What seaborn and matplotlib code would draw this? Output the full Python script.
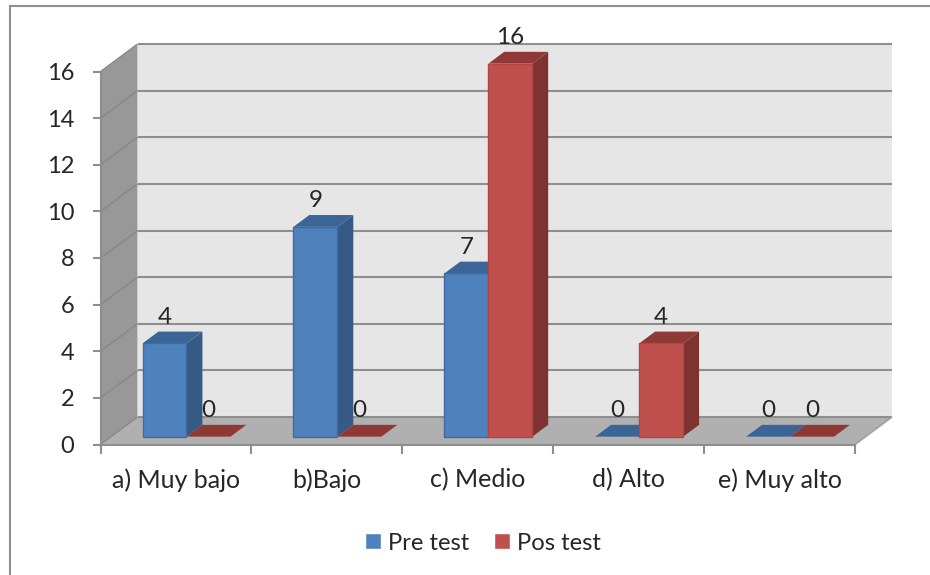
import matplotlib
matplotlib.use("Agg")
import matplotlib.pyplot as plt
from matplotlib.patches import Rectangle
from matplotlib.transforms import Affine2D
import pandas as pd
import seaborn as sns

categories = ["a) Muy bajo", "b)Bajo", "c) Medio", "d) Alto", "e) Muy alto"]
pre_test = [4, 9, 7, 0, 0]
pos_test = [0, 0, 16, 4, 0]
series_names = ["Pre test", "Pos test"]
y_ticks = [0, 2, 4, 6, 8, 10, 12, 14, 16]

FRONT = {"Pre test": "#4F81BD", "Pos test": "#C0504D"}
EDGE = {"Pre test": "#3F6C9F", "Pos test": "#B04643"}
SIDE = {"Pre test": "#355A86", "Pos test": "#7F3330"}
TOP = {"Pre test": "#3B6596", "Pos test": "#8E3936"}
GRID = "#8E8E8E"
TEXT = "#262626"
FS = 18

W, H = 930, 575
sns.set_theme(style="white")
plt.rcParams["font.family"] = ["Lato", "DejaVu Sans"]

fig = plt.figure(figsize=(W / 100, H / 100), dpi=100, facecolor="white")
L, R, T, B = 100.5, 855.0, 71.5, 444.5
ax = fig.add_axes([L / W, 1 - B / H, (R - L) / W, (B - T) / H])
ax.patch.set_visible(False)

df = pd.DataFrame({
    "cat": categories * 2,
    "serie": [series_names[0]] * 5 + [series_names[1]] * 5,
    "val": pre_test + pos_test,
})
sns.barplot(data=df, x="cat", y="val", hue="serie", hue_order=series_names,
            palette=FRONT, saturation=1, width=0.583, gap=0, dodge=True,
            linewidth=1.0, ax=ax, zorder=5)

XMIN, XMAX, YMIN, YMAX = -0.5, 4.5, 0, 16
# Depth vector of the pseudo-3D box, in data units
DX = 37.0 / ((R - L) / 5)
DY = 27.5 / ((B - T) / 16)
BAR_D0, BAR_D1 = 0.285, 0.715


def proj(x, y, d):
    return x + d * DX, y + d * DY


def poly(points, color, z):
    xs, ys = zip(*[proj(*p) for p in points])
    ax.fill(xs, ys, facecolor=color, edgecolor="none", clip_on=False, zorder=z)


def line(p0, p1, color, lw, z):
    xs, ys = zip(proj(*p0), proj(*p1))
    ax.plot(xs, ys, color=color, lw=lw, clip_on=False, zorder=z,
            solid_capstyle="butt")


# Walls and floor
poly([(XMIN, YMIN, 1), (XMAX, YMIN, 1), (XMAX, YMAX, 1), (XMIN, YMAX, 1)], "#E6E6E6", 0)
poly([(XMIN, YMIN, 0), (XMIN, YMIN, 1), (XMIN, YMAX, 1), (XMIN, YMAX, 0)], "#989898", 0)
poly([(XMIN, YMIN, 0), (XMAX, YMIN, 0), (XMAX, YMIN, 1), (XMIN, YMIN, 1)], "#B0B0B0", 0)
for yv in y_ticks:
    line((XMIN, yv, 1), (XMAX, yv, 1), GRID, 1.5, 1)
    line((XMIN, yv, 0), (XMIN, yv, 1), "#858585", 0.9, 1)
line((XMAX, YMIN, 0), (XMAX, YMIN, 1), "#A0A0A0", 1.2, 1)

# Bars: shifted into the box, with sides and tops derived from each patch
shift = Affine2D().translate(BAR_D0 * DX, BAR_D0 * DY)
for container, name in zip(ax.containers, series_names):
    for bar in container:
        x0, w, h = bar.get_x(), bar.get_width(), bar.get_height()
        bar.set_transform(shift + ax.transData)
        bar.set_clip_on(False)
        bar.set_edgecolor(EDGE[name])
        if h == 0:
            bar.set_linewidth(0)
        else:
            poly([(x0 + w, 0, BAR_D0), (x0 + w, 0, BAR_D1),
                  (x0 + w, h, BAR_D1), (x0 + w, h, BAR_D0)], SIDE[name], 3)
        poly([(x0, h, BAR_D0), (x0 + w, h, BAR_D0),
              (x0 + w, h, BAR_D1), (x0, h, BAR_D1)], TOP[name], 3)
        lx, ly = proj(x0 + w / 2, h, BAR_D0)
        ax.annotate(f"{int(h)}", (lx, ly), xytext=(0, 19), textcoords="offset points",
                    ha="center", va="center", fontsize=FS - 0.5, color=TEXT,
                    annotation_clip=False, zorder=7)

# Axes furniture
ax.set_xlim(XMIN, XMAX)
ax.set_ylim(YMIN, YMAX)
ax.set_xlabel("")
ax.set_ylabel("")
for s in ["top", "right"]:
    ax.spines[s].set_visible(False)
for s in ["left", "bottom"]:
    ax.spines[s].set_color(GRID)
    ax.spines[s].set_linewidth(1.5)
    ax.spines[s].set_zorder(2)
ax.set_yticks(y_ticks)
ax.set_yticklabels([str(v) for v in y_ticks])
ax.set_xticks([i - 0.5 for i in range(6)])
ax.set_xticklabels([""] * 6)
ax.set_xticks(range(5), minor=True)
ax.set_xticklabels(categories, minor=True)
ax.tick_params(axis="y", which="major", left=True, length=6, width=1.5, color=GRID,
               labelsize=FS - 1, labelcolor=TEXT, pad=13)
ax.tick_params(axis="x", which="major", bottom=True, length=6.5, width=1.5, color=GRID)
ax.tick_params(axis="x", which="minor", bottom=False, length=0, labelsize=FS,
               labelcolor=TEXT, pad=17)

# Legend
handles, labels = ax.get_legend_handles_labels()
ax.legend(handles, labels, loc="center", bbox_to_anchor=(483 / W, 1 - 543 / H),
          bbox_transform=fig.transFigure, ncol=2, frameon=False, fontsize=17.2,
          handlelength=0.68, handleheight=0.68, handletextpad=0.3, columnspacing=1.0,
          labelcolor=TEXT)

# Outer frame, running off the right and bottom edges of the picture
fig.add_artist(Rectangle((9.5 / W, -0.05), 1.1, 1.05 - 6.0 / H, transform=fig.transFigure,
                         facecolor="none", edgecolor="#8E8E8E", lw=1.5))

fig.savefig("out.png", dpi=100)
